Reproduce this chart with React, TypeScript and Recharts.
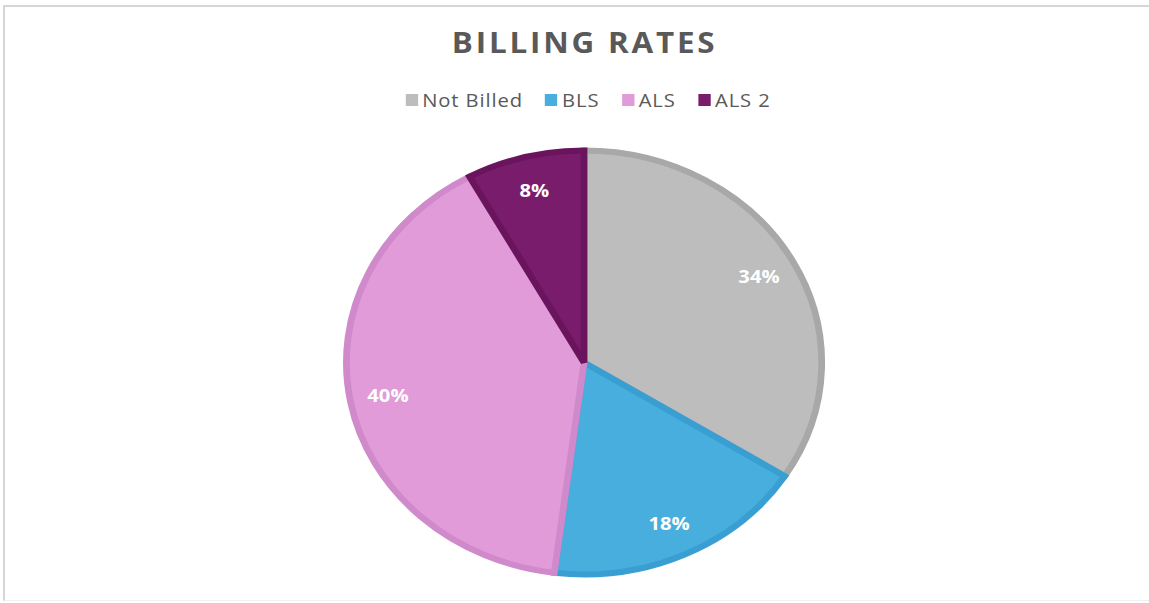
import { PieChart, Pie, Cell } from "recharts"

const categories = ["Not Billed", "BLS", "ALS", "ALS 2"]
const shares = [34, 18, 40, 8]
const fills = ["#BDBDBD", "#47AEDE", "#E09BD8", "#7A1C6C"]
const strokes = ["#A8A8A8", "#399FD2", "#D089CB", "#6A145E"]

const data = categories.map((name, i) => ({ name, value: shares[i] }))

const SX = 1.121
const RAD = Math.PI / 180

const renderLabel = (props: any) => {
  const { cx, cy, midAngle, outerRadius, value } = props
  const r = outerRadius * 0.84
  const x = cx + r * Math.cos(-midAngle * RAD)
  const y = cy + r * Math.sin(-midAngle * RAD)
  return (
    <text x={x} y={y} fill="#fff" textAnchor="middle" dominantBaseline="central"
      style={{ fontFamily: "'Open Sans', sans-serif", fontSize: 18, fontWeight: 700 }}>
      {value}%
    </text>
  )
}

export default function App() {
  return (
    <div style={{ position: "absolute", left: 0, top: 0, width: 1149, height: 603, background: "#fff", overflow: "hidden" }}>
      <div style={{ position: "absolute", left: 3, top: 5, right: 0, bottom: 2, borderTop: "2px solid #d6d6d6", borderLeft: "2px solid #d6d6d6", borderBottom: "1px solid #f0f0f0" }} />
      <div style={{ position: "absolute", left: 0, top: 0, width: 1025, height: 603, transform: `scaleX(${SX})`, transformOrigin: "0 0" }}>
        <div style={{ position: "absolute", left: 0, width: 1043, top: 23, textAlign: "center", fontFamily: "'Open Sans', sans-serif", fontWeight: 700, fontSize: 28, letterSpacing: 2.5, color: "#595959" }}>
          BILLING RATES
        </div>
        <div style={{ position: "absolute", left: 0, width: 1049, top: 88, display: "flex", justifyContent: "center", gap: 20, fontFamily: "'Open Sans', sans-serif", fontSize: 18, letterSpacing: 0.8, color: "#595959" }}>
          {categories.map((c, i) => (
            <div key={c} style={{ display: "flex", alignItems: "center" }}>
              <span style={{ display: "inline-block", width: 11, height: 12, background: fills[i], marginRight: 4 }} />
              <span>{c}</span>
            </div>
          ))}
        </div>
        <div style={{ position: "absolute", left: 0, top: 0 }}>
          <PieChart width={1025} height={603} margin={{ top: 0, right: 0, bottom: 0, left: 0 }}>
            <Pie
              data={data}
              dataKey="value"
              nameKey="name"
              cx={521}
              cy={362.5}
              outerRadius={212}
              startAngle={90}
              endAngle={-270}
              label={renderLabel}
              labelLine={false}
              isAnimationActive={false}
            >
              {data.map((d, i) => (
                <Cell key={d.name} fill={fills[i]} stroke={strokes[i]} strokeWidth={6} />
              ))}
            </Pie>
          </PieChart>
        </div>
      </div>
    </div>
  )
}
